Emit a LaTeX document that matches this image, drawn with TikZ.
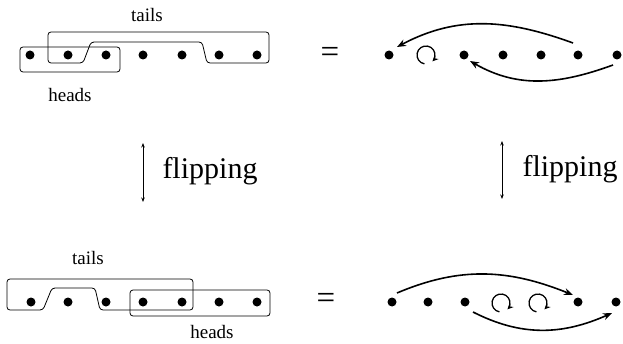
\documentclass[tikz,border=0pt]{standalone}
\usepackage{fontspec}
\setmainfont{Liberation Serif}
\usetikzlibrary{arrows.meta,calc}
\begin{document}
\begin{tikzpicture}[x=1pt,y=1pt,
 dot/.style={circle,fill=black,inner sep=0pt,minimum size=9pt},
 grp/.style={draw,line width=0.8pt,rounded corners=3pt},
 arr/.style={line width=1.6pt,-{Stealth[length=9pt,width=7pt]}},
 loopy/.style={line width=1.3pt,-{Stealth[length=6pt,width=5.5pt]}},
 flip/.style={line width=0.8pt,{Stealth[length=4.5pt,width=3.5pt]}-{Stealth[length=4.5pt,width=3.5pt]}},
 lbl/.style={font=\fontsize{19}{19}\selectfont,inner sep=0pt},
 big/.style={font=\fontsize{30}{30}\selectfont,inner sep=0pt},
 eqs/.style={font=\fontsize{33}{33}\selectfont,inner sep=0pt}]
\useasboundingbox (0,0) rectangle (623,343);
% top left row
\foreach \i/\x in {1/30,2/68,3/106,4/143,5/182,6/219,7/257}
  \node[dot] (a\i) at (\x,288) {};
\draw[grp] (20,271) rectangle (120,296);
\draw[grp] (48,311) -- (269,311) -- (269,280) -- (207,280) -- (202,301) -- (91,301) -- (83,280) -- (48,280) -- cycle;
\node[lbl] (tailsA) at (147,328) {tails};
\node[lbl] (headsA) at (70,248) {heads};
\node[eqs] (eqA) at (330,288) {=};
% top right row
\foreach \i/\x in {1/389,3/464,4/503,5/541,6/578,7/617}
  \node[dot] (b\i) at (\x,288) {};
\coordinate (lb) at (426,288);
\draw[loopy] ($(lb)+(-100:9)$) arc[start angle=-100,end angle=-405,radius=9];
\draw[arr] ($(b6)+(-5,12)$) to[out=160,in=28] ($(b1)+(8,8)$);
\draw[arr] ($(b7)+(-4,-10)$) to[out=200,in=-30] ($(b3)+(6,-6)$);
% flipping
\coordinate (fA1) at (143,200);
\coordinate (fA2) at (143,141);
\draw[flip] (fA1) -- (fA2);
\node[big] (flipA) at (210,172) {flipping};
\coordinate (fB1) at (502,202);
\coordinate (fB2) at (502,144);
\draw[flip] (fB1) -- (fB2);
\node[big] (flipB) at (570,174) {flipping};
% bottom left row
\foreach \i/\x in {1/31,2/68,3/106,4/143,5/182,6/219,7/257}
  \node[dot] (c\i) at (\x,41) {};
\draw[grp] (7,64) -- (193,64) -- (193,33) -- (100,33) -- (95,55) -- (52,55) -- (43,33) -- (7,33) -- cycle;
\draw[grp] (130,27) rectangle (270,53);
\node[lbl] (tailsC) at (88,85) {tails};
\node[lbl] (headsC) at (212,11) {heads};
\node[eqs] (eqC) at (326,42) {=};
% bottom right row
\foreach \i/\x in {1/392,2/428,3/465,6/578,7/616}
  \node[dot] (d\i) at (\x,41) {};
\coordinate (ld1) at (501,40);
\coordinate (ld2) at (538,40);
\draw[loopy] ($(ld1)+(-100:9)$) arc[start angle=-100,end angle=-405,radius=9];
\draw[loopy] ($(ld2)+(-100:9)$) arc[start angle=-100,end angle=-405,radius=9];
\draw[arr] ($(d1)+(5,9)$) to[out=23,in=158] ($(d6)+(-5,7)$);
\draw[arr] ($(d3)+(8,-10)$) to[out=-27,in=204] ($(d7)+(-4,-11)$);
\end{tikzpicture}
\end{document}
